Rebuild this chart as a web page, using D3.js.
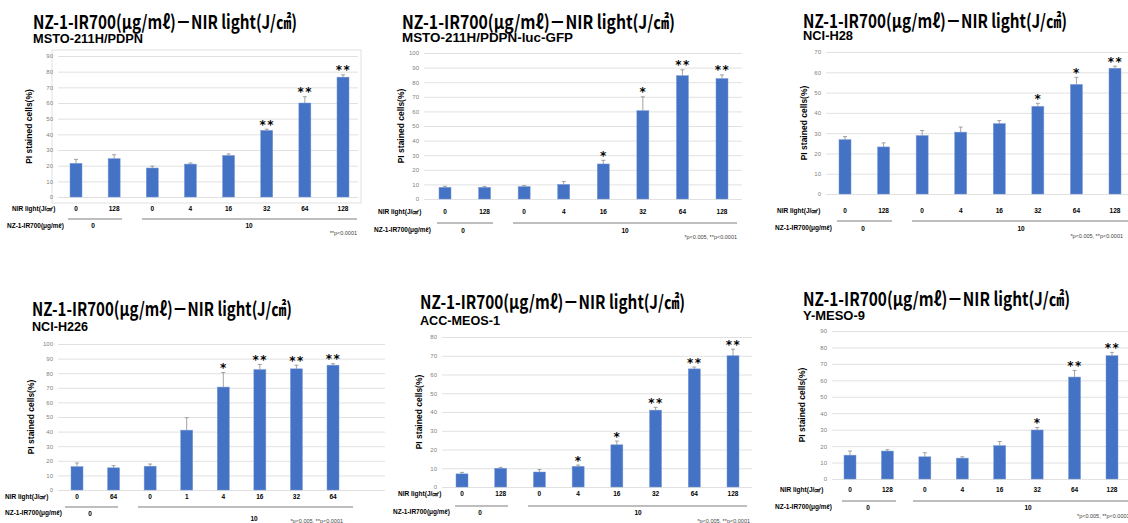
<!DOCTYPE html>
<html>
<head>
<meta charset="utf-8">
<script src="https://cdn.jsdelivr.net/npm/d3@7"></script>
<style>
  body { margin: 0; background: #fff; }
  svg { display: block; }
  .tick line { stroke: #d9d9d9; stroke-width: 0.8; }
  .tick text { fill: #7f7f7f; font-size: 6px; font-family: "Liberation Sans", Arial, sans-serif; }
</style>
</head>
<body>
<div id="chart"></div>
<script>
// chart values
var titleText = "NZ-1-IR700(μg/mℓ)－NIR light(J/㎠)";
var cellLines = ["MSTO-211H/PDPN", "MSTO-211H/PDPN-luc-GFP", "NCI-H28", "NCI-H226", "ACC-MEOS-1", "Y-MESO-9"];
var nirStandard = ["0", "128", "0", "4", "16", "32", "64", "128"];
var nirH226 = ["0", "64", "0", "1", "4", "16", "32", "64"];
var doseGroups = ["0", "10"];
var yMax = [90, 100, 70, 100, 80, 90];

var valuesMsto = [21.5, 24.5, 18.5, 21, 26.5, 42.5, 60, 76.5];
var errorsMsto = [2.5, 2.5, 1.2, 0.7, 1, 0.8, 4, 1.5];
var starsMsto = ["", "", "", "", "", "**", "**", "**"];

var valuesMstoLuc = [8, 8, 8.5, 10, 24, 60.5, 84.5, 82.5];
var errorsMstoLuc = [0.7, 0.5, 0.7, 2, 2.5, 9.5, 4, 2.5];
var starsMstoLuc = ["", "", "", "", "*", "*", "**", "**"];

var valuesH28 = [26.8, 23.2, 28.8, 30.5, 34.7, 43.2, 54, 62];
var errorsH28 = [1.5, 2, 2.5, 2.5, 1.5, 1.5, 3.5, 1];
var starsH28 = ["", "", "", "", "", "*", "*", "**"];

var valuesH226 = [16, 15.2, 16.3, 41, 70.5, 82.5, 83, 85.5];
var errorsH226 = [2.5, 1.5, 1.5, 8.5, 10, 3.5, 2.5, 1];
var starsH226 = ["", "", "", "", "*", "**", "**", "**"];

var valuesMeos = [7, 10, 8, 11, 22.5, 41, 63, 70];
var errorsMeos = [0.8, 0.5, 1.3, 0.7, 2, 1.5, 1, 3.5];
var starsMeos = ["", "", "", "*", "*", "**", "**", "**"];

var valuesYmeso = [14.5, 17, 13.5, 12.7, 20.3, 29.8, 62, 75];
var errorsYmeso = [2.5, 0.8, 2.5, 0.8, 2.5, 1.5, 4, 2];
var starsYmeso = ["", "", "", "", "", "*", "**", "**"];

var footnotes = ["**p<0.0001", "*p<0.005, **p<0.0001", "*p<0.005, **p<0.0001",
                 "*p<0.005, **p<0.0001", "*p<0.005, **p<0.0001", "*p<0.005, **p<0.0001"];

var panelData = [
  {nir: nirStandard, v: valuesMsto, e: errorsMsto, s: starsMsto},
  {nir: nirStandard, v: valuesMstoLuc, e: errorsMstoLuc, s: starsMstoLuc},
  {nir: nirStandard, v: valuesH28, e: errorsH28, s: starsH28},
  {nir: nirH226, v: valuesH226, e: errorsH226, s: starsH226},
  {nir: nirStandard, v: valuesMeos, e: errorsMeos, s: starsMeos},
  {nir: nirStandard, v: valuesYmeso, e: errorsYmeso, s: starsYmeso}
];

// where each panel sits on the page
var layouts = [
  {tx: 33, ty: 29, tw: 264, sy: 43, sw: 110, gl: 58, gr: 358, b0: 76, b1: 343, yz: 197, yt: 56, ylx: 30,
   nirY: 209, nirLx: 12, lineY: 219, g0: [68, 122], g10: [142, 357], nzY: 226, nzLx: 7,
   grpX: [93, 249], grpY: [226, 226], fnX: 357, fnY: 234, fnEnd: true, border: [52, 50, 361, 203]},
  {tx: 402, ty: 29, tw: 273, sy: 42, sw: 171, gl: 424, gr: 742, b0: 445, b1: 722, yz: 199, yt: 53, ylx: 402,
   nirY: 212, nirLx: 378, lineY: 223, g0: [437, 493], g10: [513, 737], nzY: 230, nzLx: 374,
   grpX: [463, 625], grpY: [231, 231], fnX: 737, fnY: 238, fnEnd: true},
  {tx: 803, ty: 28, tw: 264, sy: 40, sw: 50, gl: 826, gr: 1135, b0: 845, b1: 1115, yz: 194, yt: 52, ylx: 805,
   nirY: 211, nirLx: 777, lineY: 221, g0: [837, 892], g10: [912, 1135], nzY: 228, nzLx: 775,
   grpX: [863, 1021], grpY: [229, 229], fnX: 1123, fnY: 237, fnEnd: true},
  {tx: 32, ty: 316, tw: 260, sy: 331, sw: 56, gl: 58, gr: 385, b0: 77, b1: 333, yz: 490, yt: 344, ylx: 32,
   nirY: 497, nirLx: 5, lineY: 507, g0: [65, 118], g10: [138, 353], nzY: 513, nzLx: 5,
   grpX: [90, 254], grpY: [514, 519], fnX: 343, fnY: 522, fnEnd: true},
  {tx: 420, ty: 309, tw: 265, sy: 325, sw: 80, gl: 442, gr: 752, b0: 462, b1: 733, yz: 487, yt: 337, ylx: 420,
   nirY: 494, nirLx: 398, lineY: 506, g0: [455, 508], g10: [528, 747], nzY: 512, nzLx: 393,
   grpX: [480, 638], grpY: [513, 513], fnX: 750, fnY: 522, fnEnd: true},
  {tx: 803, ty: 306, tw: 267, sy: 320, sw: 62, gl: 832, gr: 1135, b0: 850, b1: 1112, yz: 479, yt: 331, ylx: 803,
   nirY: 490, nirLx: 780, lineY: 501, g0: [842, 896], g10: [913, 1135], nzY: 507, nzLx: 775,
   grpX: [868, 1028], grpY: [508, 508], fnX: 1077, fnY: 517, fnEnd: false}
];

var width = 1128, height = 523;
var svg = d3.select("#chart").append("svg")
    .attr("width", width)
    .attr("height", height);

var sans = "'Liberation Sans', Arial, sans-serif";
var jp = "'Noto Sans CJK JP', sans-serif";

layouts.forEach(function (L, p) {
    var d = panelData[p];
    var g = svg.append("g");
    var n = d.v.length;
    var step = (L.b1 - L.b0) / (n - 1);

    var x = d3.scaleBand()
        .domain(d3.range(n))
        .range([L.b0 - step / 2, L.b1 + step / 2])
        .paddingInner(1 - 12 / step)
        .paddingOuter((1 - 12 / step) / 2);

    var y = d3.scaleLinear()
        .domain([0, yMax[p]])
        .range([L.yz, L.yt]);

    if (L.border) {
        g.append("rect")
            .attr("x", L.border[0]).attr("y", L.border[1])
            .attr("width", L.border[2] - L.border[0])
            .attr("height", L.border[3] - L.border[1])
            .attr("fill", "none")
            .attr("stroke", "#d9d9d9")
            .attr("stroke-width", 0.8);
    }

    // titles
    g.append("text")
        .attr("x", L.tx).attr("y", L.ty)
        .attr("font-family", jp)
        .attr("font-weight", 700)
        .attr("font-size", 19)
        .attr("textLength", L.tw)
        .attr("lengthAdjust", "spacingAndGlyphs")
        .text(titleText);

    g.append("text")
        .attr("x", L.tx).attr("y", L.sy)
        .attr("font-family", sans)
        .attr("font-weight", "bold")
        .attr("font-size", 12)
        .attr("textLength", L.sw)
        .attr("lengthAdjust", "spacingAndGlyphs")
        .text(cellLines[p]);

    // y axis with gridlines
    g.append("g")
        .attr("transform", "translate(" + L.gl + ",0)")
        .call(d3.axisLeft(y)
            .tickValues(d3.range(0, yMax[p] + 1, 10))
            .tickSize(-(L.gr - L.gl))
            .tickPadding(5))
        .call(function (a) { a.select(".domain").remove(); });

    g.append("text")
        .attr("transform", "translate(" + L.ylx + "," + ((L.yz + L.yt) / 2) + ") rotate(-90)")
        .attr("text-anchor", "middle")
        .attr("dominant-baseline", "middle")
        .attr("font-family", sans)
        .attr("font-weight", "bold")
        .attr("font-size", 8.5)
        .text("PI stained cells(%)");

    // bars
    g.selectAll(".bar")
        .data(d.v)
        .enter().append("rect")
        .attr("class", "bar")
        .attr("x", function (v, i) { return x(i); })
        .attr("y", function (v) { return y(v); })
        .attr("width", x.bandwidth())
        .attr("height", function (v) { return y(0) - y(v); })
        .attr("fill", "#4472c4")
        .attr("stroke", "#7a9ad6")
        .attr("stroke-width", 0.5);

    // error bars (upper only)
    var eb = g.selectAll(".err")
        .data(d.v)
        .enter().append("g")
        .attr("class", "err")
        .attr("stroke", "#8c8c8c")
        .attr("stroke-width", 0.8);
    eb.append("line")
        .attr("x1", function (v, i) { return x(i) + x.bandwidth() / 2; })
        .attr("x2", function (v, i) { return x(i) + x.bandwidth() / 2; })
        .attr("y1", function (v) { return y(v); })
        .attr("y2", function (v, i) { return y(v + d.e[i]); });
    eb.append("line")
        .attr("x1", function (v, i) { return x(i) + x.bandwidth() / 2 - 2; })
        .attr("x2", function (v, i) { return x(i) + x.bandwidth() / 2 + 2; })
        .attr("y1", function (v, i) { return y(v + d.e[i]); })
        .attr("y2", function (v, i) { return y(v + d.e[i]); });

    // significance marks
    g.selectAll(".star")
        .data(d.v)
        .enter().append("text")
        .attr("class", "star")
        .attr("x", function (v, i) { return x(i) + x.bandwidth() / 2 + 0.5; })
        .attr("y", function (v, i) { return y(v + d.e[i]) - 0.5; })
        .attr("text-anchor", "middle")
        .attr("font-family", "'DejaVu Sans', sans-serif")
        .attr("font-weight", "bold")
        .attr("font-size", 12)
        .attr("letter-spacing", 1.5)
        .text(function (v, i) { return d.s[i]; });

    // NIR light row
    var small = function (sel) {
        return sel.attr("font-family", sans).attr("font-weight", "bold").attr("font-size", 6.5)
            .attr("dominant-baseline", "middle");
    };
    small(g.append("text").attr("x", L.nirLx).attr("y", L.nirY)).text("NIR light(J/㎠)");
    g.selectAll(".nir")
        .data(d.nir)
        .enter().append("text")
        .attr("class", "nir")
        .attr("x", function (t, i) { return x(i) + x.bandwidth() / 2; })
        .attr("y", L.nirY)
        .attr("text-anchor", "middle")
        .call(small)
        .text(function (t) { return t; });

    // dose group lines
    [L.g0, L.g10].forEach(function (r) {
        g.append("line")
            .attr("x1", r[0]).attr("x2", r[1])
            .attr("y1", L.lineY).attr("y2", L.lineY)
            .attr("stroke", "#7f7f7f")
            .attr("stroke-width", 1.2);
    });
    small(g.append("text").attr("x", L.nzLx).attr("y", L.nzY)).text("NZ-1-IR700(μg/mℓ)");
    doseGroups.forEach(function (t, i) {
        small(g.append("text").attr("x", L.grpX[i]).attr("y", L.grpY[i]).attr("text-anchor", "middle")).text(t);
    });

    g.append("text")
        .attr("x", L.fnX).attr("y", L.fnY)
        .attr("text-anchor", L.fnEnd ? "end" : "start")
        .attr("dominant-baseline", "middle")
        .attr("font-family", sans)
        .attr("font-size", 5.5)
        .attr("fill", "#404040")
        .text(footnotes[p]);
});
</script>
</body>
</html>
